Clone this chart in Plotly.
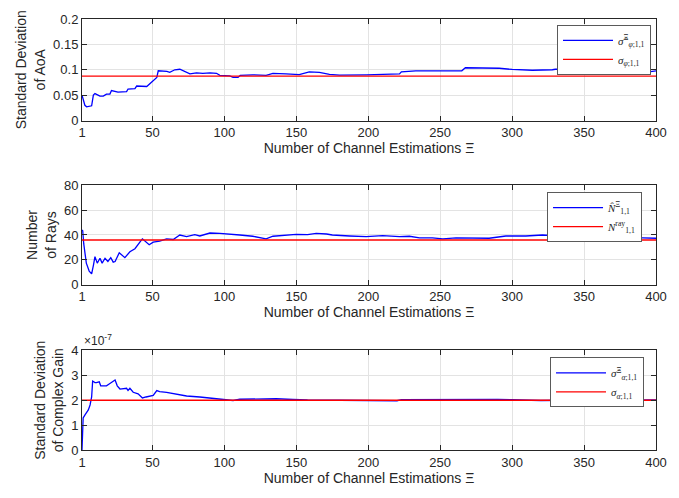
import plotly.graph_objects as go

# ---------------- data ----------------
x_aoa = [1, 3, 4.2, 7.7, 8.9, 10, 13.5, 15.8, 18, 20.4, 21.5, 24, 26, 32, 33, 37.8, 39, 46, 48,
         50.5, 53, 54, 57.4, 60, 62, 65.5, 69, 72.5, 76, 80.6, 85, 90, 94.5, 96.8, 103.7, 106,
         109.5, 111, 119.7, 129, 133.7, 142.8, 152, 159, 166, 173, 180, 198.6, 210, 221.7, 223,
         233, 244.6, 256, 265, 267.5, 279, 291, 300, 314, 328, 330, 337.5, 349, 360.5, 372,
         383.5, 395, 400]
aoa_est = [0.050, 0.030, 0.027, 0.029, 0.050, 0.053, 0.048, 0.048, 0.052, 0.052, 0.059, 0.057,
           0.056, 0.057, 0.062, 0.063, 0.068, 0.067, 0.072, 0.077, 0.085, 0.098, 0.098, 0.097,
           0.095, 0.100, 0.101, 0.096, 0.092, 0.094, 0.093, 0.094, 0.093, 0.089, 0.088, 0.085,
           0.085, 0.089, 0.090, 0.089, 0.093, 0.092, 0.0905, 0.096, 0.095, 0.091, 0.0895, 0.090,
           0.091, 0.092, 0.096, 0.098, 0.098, 0.098, 0.098, 0.104, 0.104, 0.103, 0.1006, 0.099,
           0.100, 0.101, 0.101, 0.099, 0.098, 0.096, 0.097, 0.096, 0.098]
aoa_true = 0.0875

x_rays = [1, 1.5, 2.2, 4, 6, 7.7, 9, 10, 11.6, 13.5, 15, 17, 19, 21, 22.7, 24, 26.9, 30.8, 34.3,
          37.8, 42.4, 43, 47.7, 50.5, 55, 59.8, 64.4, 69, 73.7, 79.4, 82.9, 89.9, 96.8, 103.7,
          110.7, 119.7, 129, 133.7, 142.8, 149.9, 157.8, 163.8, 171, 175, 187, 198.6, 210,
          221.7, 228.6, 235.6, 244.6, 251.8, 261, 272.6, 284, 295.6, 309.5, 321, 332.7, 344.3,
          355.9, 367.4, 379, 390.6, 400]
rays_est = [44, 43.4, 33, 17.4, 11, 8.8, 16, 22.6, 17.4, 21.3, 17.4, 21.3, 18.7, 21.8, 18.2,
            18.7, 25.7, 21.8, 26.5, 29, 36.1, 36.9, 32.2, 34.3, 35, 36.9, 36.4, 40, 38.7, 40.3,
            39.2, 41.6, 41.3, 40.8, 40, 39, 36.9, 39, 39.7, 40.5, 40.3, 41.3, 40.8, 40, 39.2,
            38.7, 39.5, 38.7, 39, 37.7, 37.7, 36.9, 37.7, 37.7, 37.4, 39.2, 39.2, 40, 39, 38.4,
            38.7, 38.2, 38.2, 37.7, 37.4]
rays_true = 36

x_gain = [1, 1.8, 3.2, 5.4, 6.6, 7.7, 8.4, 10, 11, 13, 14, 18, 20.4, 22.7, 24, 25.5, 27.4, 32,
          33, 34.3, 36.6, 40, 43, 45.5, 50.5, 53, 55, 59.8, 66.7, 73.7, 82.9, 89.9, 101.4, 106,
          110.7, 124.5, 136, 147.6, 157.8, 180, 200, 210, 220, 223, 240, 260, 275, 290, 300,
          320, 340, 360, 380, 400]
gain_est = [0.0, 1.29, 1.42, 1.61, 1.81, 2.13, 2.77, 2.71, 2.71, 2.74, 2.58, 2.58, 2.67, 2.77,
            2.81, 2.58, 2.45, 2.48, 2.39, 2.48, 2.32, 2.26, 2.09, 2.13, 2.19, 2.39, 2.35, 2.32,
            2.26, 2.17, 2.13, 2.09, 2.04, 1.99, 2.04, 2.06, 2.06, 2.03, 2.01, 2.0, 1.99, 1.97,
            1.98, 2.02, 2.03, 2.03, 2.04, 2.03, 2.02, 1.99, 2.0, 2.0, 2.0, 2.01]  # x 1e-7
gain_true = 2.0  # x 1e-7

x_ticks = [1, 50, 100, 150, 200, 250, 300, 350, 400]

# ---------------- figure ----------------
BLUE = "#0000ff"
RED = "#ff0000"
AX = "#262626"
GRID = "#e3e3e3"
FONT = "Liberation Sans, Arial, sans-serif"
SERIF = "Liberation Serif, DejaVu Serif, serif"

fig = go.Figure()

def add_pair(xs, ys, true_val, idx, name_est, name_true):
    xa = "x" if idx == 1 else f"x{idx}"
    ya = "y" if idx == 1 else f"y{idx}"
    lg = "legend" if idx == 1 else f"legend{idx}"
    fig.add_trace(go.Scatter(x=xs, y=ys, mode="lines", line=dict(color=BLUE, width=1.3),
                             name=name_est, xaxis=xa, yaxis=ya, legend=lg))
    fig.add_trace(go.Scatter(x=[x_ticks[0], x_ticks[-1]], y=[true_val, true_val], mode="lines",
                             line=dict(color=RED, width=1.3), name=name_true,
                             xaxis=xa, yaxis=ya, legend=lg))

add_pair(x_aoa, aoa_est, aoa_true, 1,
         "<i>σ̂</i><sup>Ξ</sup><sub><i>φ</i>;1,1</sub>", "<i>σ</i><sub><i>φ</i>;1,1</sub>")
add_pair(x_rays, rays_est, rays_true, 2,
         "<i>N̂</i><sup>Ξ</sup><sub>1,1</sub>", "<i>N</i><sup>ray</sup><sub>1,1</sub>")
add_pair(x_gain, gain_est, gain_true, 3,
         "<i>σ̂</i><sup>Ξ</sup><sub><i>α</i>;1,1</sub>", "<i>σ</i><sub><i>α</i>;1,1</sub>")

T, B = 17, 48
H = 498 - T - B
def dom(top_px, bot_px):
    return [(498 - B - bot_px) / H, (498 - B - top_px) / H]

doms = [dom(17, 119), dom(184, 284), dom(350, 450)]
ytitles = ["Standard Deviation<br>of AoA", "Number<br>of Rays", "Standard Deviation<br>of Complex Gain"]
yranges = [[0, 0.2], [0, 80], [0, 4]]
yticks = [[0, 0.05, 0.1, 0.15, 0.2], [0, 20, 40, 60, 80], [0, 1, 2, 3, 4]]
ytext = [["0", "0.05", "0.1", "0.15", "0.2"], ["0", "20", "40", "60", "80"], ["0", "1", "2", "3", "4"]]

axis_common = dict(showline=True, linecolor=AX, linewidth=1, mirror="ticks", ticks="inside",
                   ticklen=5, tickcolor=AX, showgrid=True, gridcolor=GRID, gridwidth=1,
                   zeroline=False, tickfont=dict(family=FONT, size=13, color=AX))

layout = dict(width=679, height=498, margin=dict(l=82, r=22, t=T, b=B),
              paper_bgcolor="white", plot_bgcolor="white",
              font=dict(family=FONT, color=AX), showlegend=True)

for i in range(3):
    k = "" if i == 0 else str(i + 1)
    layout["xaxis" + k] = dict(axis_common, domain=[0, 1], range=[1, 400], tickvals=x_ticks,
                               anchor="y" + k,
                               title=dict(text="Number of Channel Estimations Ξ",
                                          font=dict(family=FONT, size=14, color=AX), standoff=3))
    layout["yaxis" + k] = dict(axis_common, domain=doms[i], range=yranges[i], tickvals=yticks[i],
                               ticktext=ytext[i], anchor="x" + k,
                               title=dict(text=ytitles[i], font=dict(family=FONT, size=14, color=AX),
                                          standoff=4))

leg_common = dict(bgcolor="white", bordercolor="#5a5a5a", borderwidth=1, xanchor="right",
                  yanchor="top", font=dict(family=SERIF, size=11, color=AX),
                  tracegroupgap=0, itemwidth=50)
def ypix(p):
    return (498 - B - p) / H
layout["legend"] = dict(leg_common, x=(652 - 82) / 575, y=ypix(23))
layout["legend2"] = dict(leg_common, x=(643 - 82) / 575, y=ypix(191))
layout["legend3"] = dict(leg_common, x=(645 - 82) / 575, y=ypix(357))

fig.update_layout(**layout)

fig.add_annotation(text="×10<sup>-7</sup>", xref="paper", yref="paper", x=0, y=doms[2][1],
                   xanchor="left", yanchor="bottom", showarrow=False,
                   font=dict(family=FONT, size=12, color=AX))

fig.write_html("out.html", config={"displayModeBar": False},
               post_script="document.body.style.margin='0px';")
